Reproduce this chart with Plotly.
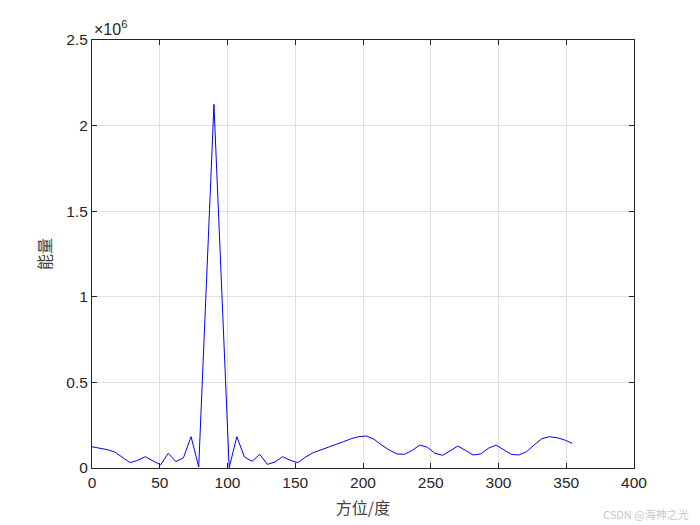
import plotly.graph_objects as go

# azimuth samples (deg), 64 steps of 5.625
azimuth = [i * 5.625 for i in range(64)]

# beam energy, in units of 1e6
energy_e6 = [
    0.124, 0.117, 0.107, 0.093, 0.064, 0.031, 0.045, 0.066,
    0.041, 0.018, 0.086, 0.037, 0.060, 0.183, 0.006, 1.065,
    2.124, 1.063, 0.002, 0.183, 0.064, 0.039, 0.080, 0.021,
    0.035, 0.066, 0.045, 0.031, 0.064, 0.089, 0.105, 0.121,
    0.134, 0.154, 0.171, 0.183, 0.187, 0.168, 0.134, 0.105,
    0.082, 0.080, 0.103, 0.134, 0.121, 0.086, 0.074, 0.103,
    0.128, 0.103, 0.076, 0.082, 0.115, 0.134, 0.109, 0.080,
    0.076, 0.095, 0.134, 0.171, 0.183, 0.177, 0.164, 0.144,
]
energy = [v * 1e6 for v in energy_e6]

x_ticks = [0, 50, 100, 150, 200, 250, 300, 350, 400]
y_ticks = [0, 0.5e6, 1e6, 1.5e6, 2e6, 2.5e6]
y_ticktext = ['0', '0.5', '1', '1.5', '2', '2.5']

axis_color = '#262626'
grid_color = '#dfdfdf'
tick_font = dict(family='Liberation Sans, Arial, sans-serif', size=15.5, color=axis_color)
cjk_font = dict(family='Noto Sans CJK SC, sans-serif', size=16, color='#404040')

fig = go.Figure()

fig.add_trace(go.Scatter(
    x=azimuth,
    y=energy,
    mode='lines',
    line=dict(color='#0000ff', width=1),
    showlegend=False
))

# page body adds ~7px offset, margins compensate so the axes land where the reference has them
fig.update_layout(
    width=700,
    height=525,
    margin=dict(l=84, r=74, t=32, b=65),
    paper_bgcolor='white',
    plot_bgcolor='white',
    showlegend=False
)

fig.update_xaxes(
    range=[0, 400],
    tickvals=x_ticks,
    tickfont=tick_font,
    ticks='inside',
    ticklen=5,
    tickcolor=axis_color,
    showline=True,
    linecolor=axis_color,
    linewidth=1,
    mirror='ticks',
    showgrid=True,
    gridcolor=grid_color,
    zeroline=False,
    title=dict(text='方位/度', font=cjk_font, standoff=13)
)
fig.update_yaxes(
    range=[0, 2.5e6],
    tickvals=y_ticks,
    ticktext=y_ticktext,
    tickfont=tick_font,
    ticks='inside',
    ticklen=5,
    tickcolor=axis_color,
    showline=True,
    linecolor=axis_color,
    linewidth=1,
    mirror='ticks',
    showgrid=True,
    gridcolor=grid_color,
    zeroline=False,
    title=dict(text='能量', font=cjk_font, standoff=10)
)

# MATLAB-style exponent label
fig.add_annotation(
    text='×10<sup>6</sup>', xref='paper', yref='paper',
    x=0, y=1, xanchor='left', yanchor='bottom', yshift=0,
    showarrow=False, font=dict(family='Liberation Sans, Arial, sans-serif', size=16, color=axis_color)
)

# watermark
fig.add_annotation(
    text='CSDN @海神之光', xref='paper', yref='paper',
    x=1.105, y=-0.108, xanchor='right', yanchor='middle',
    showarrow=False,
    font=dict(family='Noto Sans CJK SC, sans-serif', size=11, color='#c8c8c8')
)

fig.write_html('out.html')
